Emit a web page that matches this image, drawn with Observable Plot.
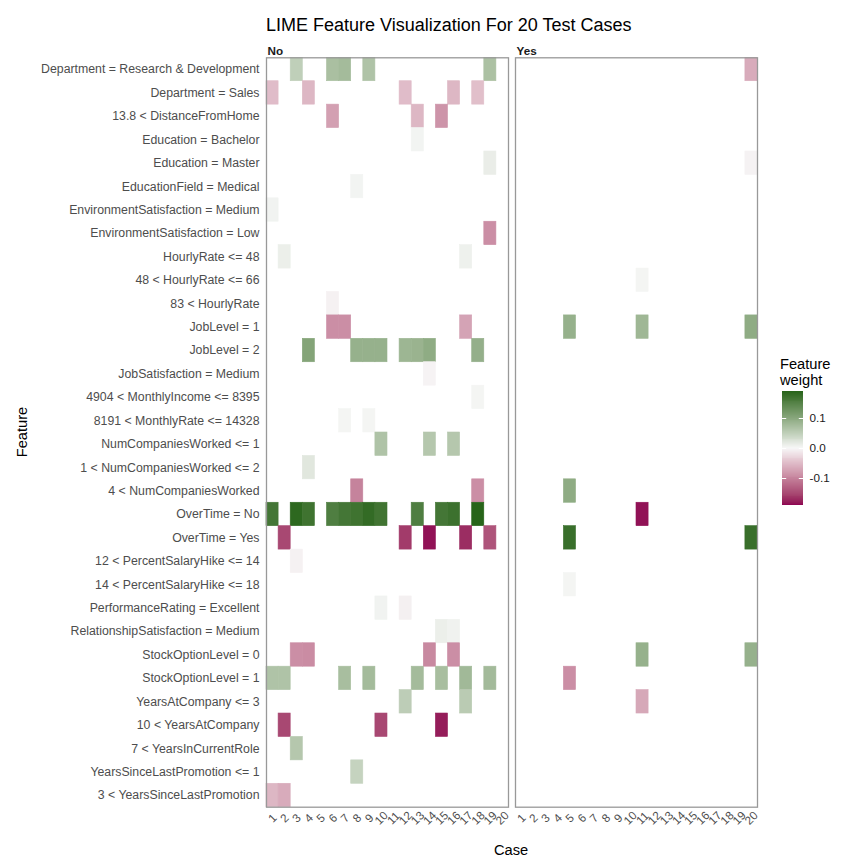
<!DOCTYPE html>
<html>
<head>
<meta charset="utf-8">
<script src="https://cdn.jsdelivr.net/npm/d3@7"></script>
<script src="https://cdn.jsdelivr.net/npm/@observablehq/plot@0.6"></script>
<style>
  body { margin: 0; background: #fff; font-family: "Liberation Sans", Arial, sans-serif; }
  #wrap { position: relative; width: 846px; height: 862px; overflow: hidden; }
  .abs { position: absolute; white-space: nowrap; }
</style>
</head>
<body>
<div id="wrap">
  <div class="abs" id="title" style="left:266px; top:15px; font-size:18px; color:#000;">LIME Feature Visualization For 20 Test Cases</div>
  <div class="abs" id="chart" style="left:0; top:40px;"></div>
  <div class="abs" style="left:0; top:842px; width:1022px; text-align:center; font-size:14.67px; color:#000;">Case</div>
  <div class="abs" style="left:22px; top:432px; font-size:14.67px; color:#000; transform: translate(-50%,-50%) rotate(-90deg);">Feature</div>
  <div class="abs" style="left:780px; top:356px; font-size:14.67px; line-height:16px; color:#000;">Feature<br>weight</div>
  <div class="abs" id="legend" style="left:770px; top:380px;"></div>
</div>
<script>
const panels = ["No", "Yes"];
const cases = [1, 2, 3, 4, 5, 6, 7, 8, 9, 10, 11, 12, 13, 14, 15, 16, 17, 18, 19, 20];
const features = [
  "Department = Research & Development",
  "Department = Sales",
  "13.8 < DistanceFromHome",
  "Education = Bachelor",
  "Education = Master",
  "EducationField = Medical",
  "EnvironmentSatisfaction = Medium",
  "EnvironmentSatisfaction = Low",
  "HourlyRate <= 48",
  "48 < HourlyRate <= 66",
  "83 < HourlyRate",
  "JobLevel = 1",
  "JobLevel = 2",
  "JobSatisfaction = Medium",
  "4904 < MonthlyIncome <= 8395",
  "8191 < MonthlyRate <= 14328",
  "NumCompaniesWorked <= 1",
  "1 < NumCompaniesWorked <= 2",
  "4 < NumCompaniesWorked",
  "OverTime = No",
  "OverTime = Yes",
  "12 < PercentSalaryHike <= 14",
  "14 < PercentSalaryHike <= 18",
  "PerformanceRating = Excellent",
  "RelationshipSatisfaction = Medium",
  "StockOptionLevel = 0",
  "StockOptionLevel = 1",
  "YearsAtCompany <= 3",
  "10 < YearsAtCompany",
  "7 < YearsInCurrentRole",
  "YearsSinceLastPromotion <= 1",
  "3 < YearsSinceLastPromotion"
];

// [feature, case, weight] for cases labelled "No"
const noCells = [
  ["Department = Research & Development", 3, 0.05],
  ["Department = Research & Development", 6, 0.07],
  ["Department = Research & Development", 7, 0.075],
  ["Department = Research & Development", 9, 0.065],
  ["Department = Research & Development", 19, 0.068],
  ["Department = Sales", 1, -0.05],
  ["Department = Sales", 4, -0.055],
  ["Department = Sales", 12, -0.05],
  ["Department = Sales", 16, -0.055],
  ["Department = Sales", 18, -0.048],
  ["13.8 < DistanceFromHome", 6, -0.075],
  ["13.8 < DistanceFromHome", 13, -0.055],
  ["13.8 < DistanceFromHome", 15, -0.085],
  ["Education = Bachelor", 13, 0.004],
  ["Education = Master", 19, 0.012],
  ["EducationField = Medical", 8, 0.004],
  ["EnvironmentSatisfaction = Medium", 1, 0.005],
  ["EnvironmentSatisfaction = Low", 19, -0.09],
  ["HourlyRate <= 48", 2, 0.01],
  ["HourlyRate <= 48", 17, 0.008],
  ["83 < HourlyRate", 6, -0.005],
  ["JobLevel = 1", 6, -0.09],
  ["JobLevel = 1", 7, -0.09],
  ["JobLevel = 1", 17, -0.072],
  ["JobLevel = 2", 4, 0.105],
  ["JobLevel = 2", 8, 0.088],
  ["JobLevel = 2", 9, 0.088],
  ["JobLevel = 2", 10, 0.088],
  ["JobLevel = 2", 12, 0.082],
  ["JobLevel = 2", 13, 0.085],
  ["JobLevel = 2", 14, 0.095],
  ["JobLevel = 2", 18, 0.09],
  ["JobSatisfaction = Medium", 14, -0.003],
  ["4904 < MonthlyIncome <= 8395", 18, 0.003],
  ["8191 < MonthlyRate <= 14328", 7, 0.003],
  ["8191 < MonthlyRate <= 14328", 9, 0.003],
  ["NumCompaniesWorked <= 1", 10, 0.065],
  ["NumCompaniesWorked <= 1", 14, 0.06],
  ["NumCompaniesWorked <= 1", 16, 0.06],
  ["1 < NumCompaniesWorked <= 2", 4, 0.02],
  ["4 < NumCompaniesWorked", 8, -0.1],
  ["4 < NumCompaniesWorked", 18, -0.09],
  ["OverTime = No", 1, 0.165],
  ["OverTime = No", 3, 0.185],
  ["OverTime = No", 4, 0.17],
  ["OverTime = No", 6, 0.155],
  ["OverTime = No", 7, 0.165],
  ["OverTime = No", 8, 0.17],
  ["OverTime = No", 9, 0.18],
  ["OverTime = No", 10, 0.168],
  ["OverTime = No", 13, 0.155],
  ["OverTime = No", 15, 0.165],
  ["OverTime = No", 16, 0.172],
  ["OverTime = No", 18, 0.19],
  ["OverTime = Yes", 2, -0.15],
  ["OverTime = Yes", 12, -0.16],
  ["OverTime = Yes", 14, -0.185],
  ["OverTime = Yes", 17, -0.17],
  ["OverTime = Yes", 19, -0.14],
  ["12 < PercentSalaryHike <= 14", 3, -0.005],
  ["PerformanceRating = Excellent", 10, 0.005],
  ["PerformanceRating = Excellent", 12, -0.006],
  ["RelationshipSatisfaction = Medium", 15, 0.01],
  ["RelationshipSatisfaction = Medium", 16, 0.006],
  ["StockOptionLevel = 0", 3, -0.09],
  ["StockOptionLevel = 0", 4, -0.092],
  ["StockOptionLevel = 0", 14, -0.095],
  ["StockOptionLevel = 0", 16, -0.09],
  ["StockOptionLevel = 1", 1, 0.065],
  ["StockOptionLevel = 1", 2, 0.065],
  ["StockOptionLevel = 1", 7, 0.072],
  ["StockOptionLevel = 1", 9, 0.075],
  ["StockOptionLevel = 1", 13, 0.075],
  ["StockOptionLevel = 1", 15, 0.072],
  ["StockOptionLevel = 1", 17, 0.078],
  ["StockOptionLevel = 1", 19, 0.076],
  ["YearsAtCompany <= 3", 12, 0.052],
  ["YearsAtCompany <= 3", 17, 0.055],
  ["10 < YearsAtCompany", 2, -0.15],
  ["10 < YearsAtCompany", 10, -0.15],
  ["10 < YearsAtCompany", 15, -0.18],
  ["7 < YearsInCurrentRole", 3, 0.06],
  ["YearsSinceLastPromotion <= 1", 8, 0.045],
  ["3 < YearsSinceLastPromotion", 1, -0.055],
  ["3 < YearsSinceLastPromotion", 2, -0.065]
];

// [feature, case, weight] for cases labelled "Yes"
const yesCells = [
  ["Department = Research & Development", 20, -0.065],
  ["Education = Master", 20, -0.004],
  ["48 < HourlyRate <= 66", 11, 0.003],
  ["JobLevel = 1", 5, 0.088],
  ["JobLevel = 1", 11, 0.08],
  ["JobLevel = 1", 20, 0.095],
  ["4 < NumCompaniesWorked", 5, 0.095],
  ["OverTime = No", 11, -0.185],
  ["OverTime = Yes", 5, 0.175],
  ["OverTime = Yes", 20, 0.175],
  ["14 < PercentSalaryHike <= 18", 5, 0.003],
  ["StockOptionLevel = 0", 11, 0.088],
  ["StockOptionLevel = 0", 20, 0.088],
  ["StockOptionLevel = 1", 5, -0.09],
  ["YearsAtCompany <= 3", 11, -0.068]
];

const legendTicks = [-0.1, 0.0, 0.1];
const weightLimits = [-0.19, 0.19];
const weightColors = ["#8E0152", "#F7F7F7", "#276419"];

const toRow = panel => ([feature, c, weight]) => ({panel, feature, case: c, weight});
const cells = noCells.map(toRow("No")).concat(yesCells.map(toRow("Yes")));

const colorScale = {
  type: "linear",
  domain: [weightLimits[0], 0, weightLimits[1]],
  range: weightColors,
  interpolate: "lab",
  clamp: true
};

const chart = Plot.plot({
  width: 846,
  height: 822,
  marginLeft: 266,
  marginRight: 89,
  marginTop: 17.3,
  marginBottom: 55.3,
  style: {fontFamily: "Liberation Sans, Arial, sans-serif", background: "transparent"},
  fx: {domain: panels, paddingInner: 0.0281, paddingOuter: 0, round: false, axis: null, label: null},
  x: {domain: cases, padding: 0, round: false, axis: null, label: null},
  y: {domain: features, padding: 0, round: false, axis: null, label: null},
  color: colorScale,
  marks: [
    Plot.cell(cells, {x: "case", y: "feature", fx: "panel", fill: "weight", stroke: "weight", strokeWidth: 0.6}),
    Plot.frame({stroke: "#999999", strokeWidth: 1.3}),
    Plot.axisY({tickSize: 0, tickPadding: 7, fontSize: 12.3, fill: "#4d4d4d", label: null}),
    Plot.axisX({tickSize: 0, tickPadding: 11, tickRotate: -45, textAnchor: "middle", fontSize: 11.7, fill: "#4d4d4d", label: null}),
    Plot.text(panels, {fx: d => d, text: d => d, frameAnchor: "top-left", lineAnchor: "bottom", dy: -3, dx: 1, fontWeight: "bold", fontSize: 11.7, fill: "#1a1a1a"})
  ]
});
document.getElementById("chart").appendChild(chart);

// Vertical colour bar legend, using the same colour scale
const stripes = d3.range(0, 120).map(i => {
  const a = weightLimits[0] + (weightLimits[1] - weightLimits[0]) * i / 120;
  const b = weightLimits[0] + (weightLimits[1] - weightLimits[0]) * (i + 1) / 120;
  return {y1: a, y2: b, v: (a + b) / 2};
});
const legend = Plot.plot({
  width: 76,
  height: 140,
  marginLeft: 12,
  marginRight: 43,
  marginTop: 11,
  marginBottom: 15,
  style: {fontFamily: "Liberation Sans, Arial, sans-serif", background: "transparent"},
  x: {domain: [0, 1], axis: null},
  y: {domain: weightLimits, axis: null},
  color: colorScale,
  marks: [
    Plot.rect(stripes, {x1: 0, x2: 1, y1: "y1", y2: "y2", fill: "v", inset: 0, shapeRendering: "crispEdges"}),
    Plot.ruleY(legendTicks, {x1: 0, x2: 0.2, stroke: "white", strokeWidth: 1}),
    Plot.ruleY(legendTicks, {x1: 0.8, x2: 1, stroke: "white", strokeWidth: 1}),
    Plot.axisY(legendTicks, {anchor: "right", tickSize: 0, tickPadding: 6, fontSize: 11.7, fill: "#1a1a1a", tickFormat: d => d.toFixed(1), label: null})
  ]
});
document.getElementById("legend").appendChild(legend);
</script>
</body>
</html>
